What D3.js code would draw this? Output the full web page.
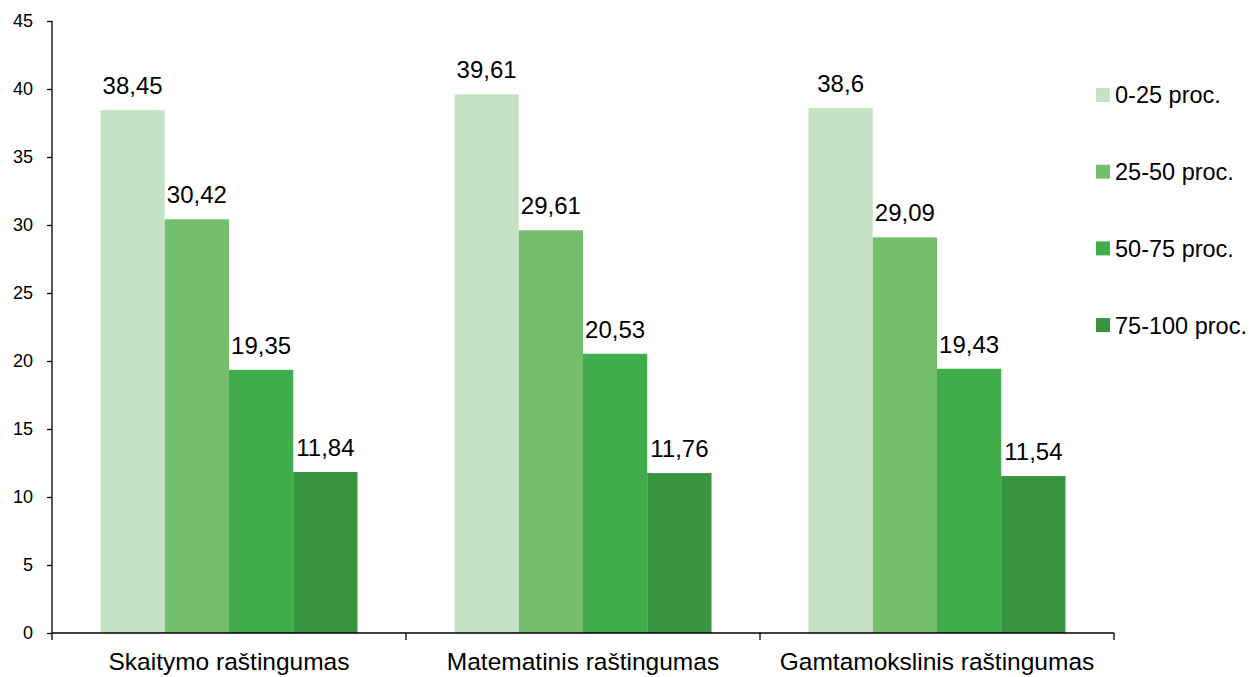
<!DOCTYPE html>
<html>
<head>
<meta charset="utf-8">
<script src="https://cdn.jsdelivr.net/npm/d3@7"></script>
<style>
    body { margin: 0; background: #ffffff; }
    svg { display: block; font-family: Arial, "Liberation Sans", sans-serif; }
</style>
</head>
<body>
<div id="chartDiv"></div>
<script>
var categories = ["Skaitymo raštingumas", "Matematinis raštingumas", "Gamtamokslinis raštingumas"];
var seriesNames = ["0-25 proc.", "25-50 proc.", "50-75 proc.", "75-100 proc."];
var seriesColors = ["#c6e2c4", "#74be6e", "#41ad4a", "#38943e"];
var values0to25 = [38.45, 39.61, 38.6];
var values25to50 = [30.42, 29.61, 29.09];
var values50to75 = [19.35, 20.53, 19.43];
var values75to100 = [11.84, 11.76, 11.54];
var yTicks = [0, 5, 10, 15, 20, 25, 30, 35, 40, 45];

var allValues = [values0to25, values25to50, values50to75, values75to100];

var width = 1253;
var height = 677;

var svg = d3.select("#chartDiv")
    .append("svg")
    .attr("width", width)
    .attr("height", height);

var x = d3.scaleBand().domain(categories).range([52, 1114]).padding(0);
var xInner = d3.scaleBand().domain(seriesNames).range([0, x.bandwidth()]).paddingInner(0).paddingOuter(0.755);
var y = d3.scaleLinear().domain([0, 45]).range([633, 21]);

// table of bars, one row per (category, series)
var rows = [];
categories.forEach(function(c, i) {
    seriesNames.forEach(function(s, j) {
        rows.push({cat: c, series: s, value: allValues[j][i], color: seriesColors[j]});
    });
});

svg.append("g")
    .selectAll("rect")
    .data(rows)
    .enter()
    .append("rect")
    .attr("x", function(d) { return x(d.cat) + xInner(d.series); })
    .attr("y", function(d) { return y(d.value); })
    .attr("width", xInner.bandwidth())
    .attr("height", function(d) { return y(0) - y(d.value); })
    .attr("fill", function(d) { return d.color; });

svg.append("g")
    .selectAll("text")
    .data(rows)
    .enter()
    .append("text")
    .attr("x", function(d) { return x(d.cat) + xInner(d.series) + xInner.bandwidth() / 2; })
    .attr("y", function(d) { return y(d.value) - 16; })
    .attr("text-anchor", "middle")
    .style("font-size", "24px")
    .style("fill", "#000")
    .text(function(d) { return String(d.value).replace(".", ","); });

// y axis
var yAxis = svg.append("g")
    .attr("transform", "translate(52,0)")
    .call(d3.axisLeft(y).tickValues(yTicks).tickSize(5).tickPadding(14).tickFormat(function(d) { return d; }));
yAxis.select(".domain").attr("d", "M0," + y(45) + "V" + y(0)).attr("stroke", "#000").attr("stroke-width", 1.3);
yAxis.selectAll(".tick line").attr("stroke", "#000").attr("stroke-width", 1.3);
yAxis.selectAll(".tick text").style("font-size", "18px").style("fill", "#000").style("font-family", "Arial, 'Liberation Sans', sans-serif");

// x axis, ticks on the category borders
var xAxis = svg.append("g").attr("transform", "translate(0," + y(0) + ")");
xAxis.append("line")
    .attr("x1", 52).attr("x2", 1114)
    .attr("y1", 0).attr("y2", 0)
    .attr("stroke", "#000").attr("stroke-width", 1.3);
var borders = categories.map(function(c) { return x(c); }).concat([x(categories[categories.length - 1]) + x.bandwidth()]);
xAxis.selectAll(".xtick")
    .data(borders)
    .enter()
    .append("line")
    .attr("class", "xtick")
    .attr("x1", function(d) { return d; }).attr("x2", function(d) { return d; })
    .attr("y1", 0).attr("y2", 7)
    .attr("stroke", "#000").attr("stroke-width", 1.3);
xAxis.selectAll(".xlabel")
    .data(categories)
    .enter()
    .append("text")
    .attr("class", "xlabel")
    .attr("x", function(d) { return x(d) + x.bandwidth() / 2; })
    .attr("y", 37)
    .attr("text-anchor", "middle")
    .style("font-size", "24.5px")
    .style("fill", "#000")
    .text(function(d) { return d; });

// legend
var legend = svg.append("g")
    .selectAll("g")
    .data(seriesNames)
    .enter()
    .append("g")
    .attr("transform", function(d, i) { return "translate(1096," + (95 + i * 76.7) + ")"; });
legend.append("rect")
    .attr("x", 0).attr("y", -7)
    .attr("width", 14).attr("height", 14)
    .attr("fill", function(d, i) { return seriesColors[i]; });
legend.append("text")
    .attr("x", 19).attr("y", 0)
    .attr("dy", "0.36em")
    .style("font-size", "23.5px")
    .style("fill", "#000")
    .text(function(d) { return d; });
</script>
</body>
</html>
